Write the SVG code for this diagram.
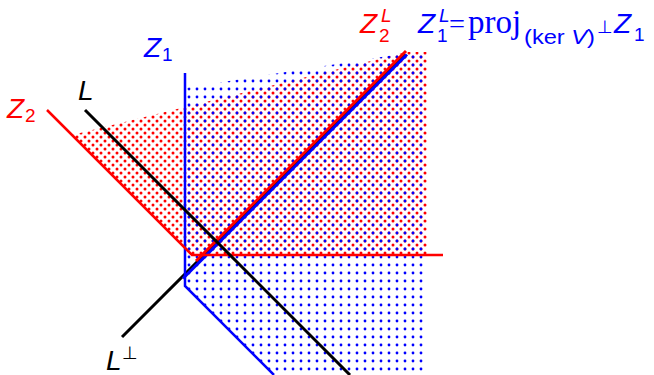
<svg xmlns="http://www.w3.org/2000/svg" width="654" height="375" viewBox="0 0 654 375">
<style>
.s{font-family:"Liberation Sans","DejaVu Sans",sans-serif;}
.it{font-style:italic;}
.r{fill:#ff0000;}
.b{fill:#0000ff;}
.k{fill:#000000;}
.rm{font-family:"Liberation Serif","DejaVu Serif",serif;}
</style>
<defs>
<pattern id="pr" patternUnits="userSpaceOnUse" x="3" y="-1" width="8" height="8">
<circle cx="2" cy="2" r="1.5" fill="#ff0000"/><circle cx="6" cy="6" r="1.5" fill="#ff0000"/>
</pattern>
<pattern id="pb" patternUnits="userSpaceOnUse" x="1" y="-3" width="8" height="8">
<circle cx="4" cy="4" r="1.4" fill="#0000ff"/>
</pattern>
</defs>
<g id="regions">
<polygon id="regionZ2" points="72,135 407,52 427,52 427,255 192,255" fill="url(#pr)"/>
<polygon id="regionZ1" points="185,88 407,53 427,53 427,375 274,375 185,286" fill="url(#pb)"/>
</g>
<g id="connectors" fill="none" stroke-linecap="butt">
<line id="Lperp" x1="122" y1="337" x2="405" y2="54" stroke="#000" stroke-width="3"/>
<polyline id="Z1line" points="185,73 185,286 274,375" stroke="#0000ff" stroke-width="2.5"/>
<line id="Z1L" x1="183" y1="278.5" x2="407" y2="54.5" stroke="#0000ff" stroke-width="3"/>
<polyline id="Z2line" points="47,110 192,255 443,255" stroke="#ff0000" stroke-width="2.5"/>
<line id="Z2L" x1="196" y1="261" x2="406" y2="51" stroke="#ff0000" stroke-width="3"/>
<line id="L" x1="85" y1="110" x2="350" y2="375" stroke="#000" stroke-width="3"/>
</g>
<g id="label-Z1" class="s b">
<text x="144" y="57" font-size="28" class="it">Z</text><text x="162" y="61" font-size="19">1</text>
</g>
<g id="label-L" class="s k">
<text x="78" y="100" font-size="28" class="it">L</text>
</g>
<g id="label-Z2" class="s r">
<text x="7" y="118" font-size="28" class="it">Z</text><text x="25" y="122" font-size="19">2</text>
</g>
<g id="label-Z2L" class="s r">
<text x="360" y="33" font-size="28" class="it">Z</text><text x="381" y="22" font-size="19" class="it">L</text><text x="379" y="42" font-size="19">2</text>
</g>
<g id="label-Z1L" class="b">
<text x="418" y="33" font-size="28" class="s it">Z</text><text x="439" y="22" font-size="19" class="s it">L</text><text x="437" y="42" font-size="19" class="s">1</text>
<text x="449" y="33" font-size="28" class="rm" textLength="16" lengthAdjust="spacingAndGlyphs">=</text>
<text x="468" y="33" font-size="33" class="rm">proj</text>
<text x="524" y="44" font-size="20" class="s" textLength="71" lengthAdjust="spacingAndGlyphs">(ker <tspan class="it">V</tspan>)</text>
<text x="597" y="33" font-size="18" class="s">⊥</text>
<text x="614" y="33" font-size="28" class="s it">Z</text><text x="634" y="41" font-size="19" class="s">1</text>
</g>
<g id="label-Lperp" class="s k">
<text x="106" y="370" font-size="28" class="it">L</text><text x="122" y="359" font-size="18">⊥</text>
</g>
</svg>
